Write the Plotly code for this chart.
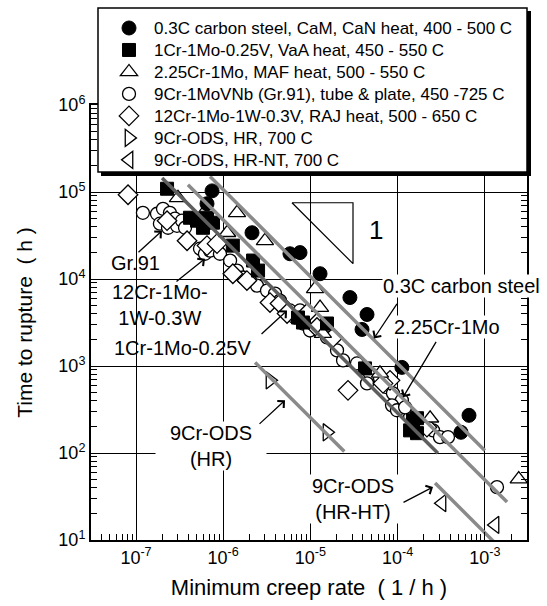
import plotly.graph_objects as go

# ---------------- data (minimum creep rate [1/h], time to rupture [h]) -------------
cs_rate = [7.45e-7, 6.52e-7, 2.14e-6, 5.83e-6, 7.6e-6, 1.29e-5, 2.84e-5, 4.46e-5, 3.91e-5, 1.12e-4, 6.59e-4, 5.33e-4]
cs_time = [1.03e5, 7.33e4, 3.4e4, 1.95e4, 2.01e4, 1.15e4, 6.12e3, 3.91e3, 2.63e3, 964, 271, 173]

crmov_rate = [2.27e-7, 4.16e-7, 5.01e-7, 6.52e-7, 5.86e-7, 7.64e-7, 1.29e-6, 2.2e-6, 2.51e-6, 7.21e-6,
              8.22e-6, 1.55e-5, 4.23e-5, 1.5e-4, 1.67e-4, 1.67e-4, 1.39e-4]
crmov_time = [1.09e5, 5.06e4, 4.68e4, 5.06e4, 3.88e4, 4.44e4, 2.42e4, 1.63e4, 1.25e4, 3.61e3,
              3.16e3, 3.08e3, 938, 238, 169, 251, 182]

cr2_rate = [3.03e-7, 6.52e-7, 1.44e-6, 1.11e-6, 3.01e-6, 1.13e-5, 1.29e-5, 1.39e-5, 4.46e-5, 6.28e-5,
            2.36e-4, 2.45e-3]
cr2_time = [8.57e4, 6.41e4, 5.77e4, 3.4e4, 2.75e4, 7.7e3, 4.7e3, 2.36e3, 891, 822,
            251, 50]

gr91_rate = [1.2e-7, 1.74e-7, 2.04e-7, 2.45e-7, 2.8e-7, 1.88e-7, 2.33e-7, 2.95e-7, 3.37e-7, 3.65e-7,
             5.42e-7, 6.18e-7, 7.06e-7, 9.18e-7, 1.2e-6, 1.44e-6, 1.69e-6, 2.03e-6, 2.44e-6, 3.18e-6,
             3.93e-6, 4.48e-6, 5.83e-6, 6.65e-6, 8.22e-6, 9.89e-6, 7.6e-6, 1.55e-5, 2.02e-5, 2.37e-5,
             3.42e-5, 4.82e-5, 6.28e-5, 4.46e-5, 7.55e-5, 8.85e-5, 1.12e-4, 8.63e-5, 9.84e-5, 1.39e-4,
             1.22e-4, 2.55e-4, 3.06e-4, 3.78e-4, 1.38e-3]
gr91_time = [5.77e4, 5.62e4, 6.41e4, 5.77e4, 4.93e4, 4.32e4, 3.88e4, 4.09e4, 4.68e4, 3.88e4,
             2.23e4, 1.95e4, 2.12e4, 1.95e4, 1.63e4, 1.25e4, 1.04e4, 9.59e3, 8.4e3, 7.36e3,
             6.8e3, 5.65e3, 4.35e3, 3.61e3, 3.08e3, 2.56e3, 4.35e3, 2.13e3, 1.51e3, 1.16e3,
             1.07e3, 822, 721, 631, 569, 485, 404, 353, 310, 258,
             335, 182, 152, 152, 40.5]

cr12_rate = [8.1e-8, 2.27e-7, 3.85e-7, 6.52e-7, 8.49e-7, 1.29e-6, 1.87e-6, 3.44e-6, 4.48e-6, 5.4e-6,
             9.14e-6, 1.19e-5, 1.82e-5, 2.7e-5, 8.18e-5, 6.81e-5, 2.17e-4]
cr12_time = [9.29e4, 4.68e4, 2.75e4, 2.42e4, 2.55e4, 1.15e4, 9.59e3, 5.36e3, 5.22e3, 4.01e3,
             4.01e3, 2.77e3, 2.13e3, 525, 684, 631, 198]

odshr_rate = [3.44e-6, 1.55e-5]
odshr_time = [684, 173]

odsnt_rate = [3.23e-4, 1.31e-3]
odsnt_time = [26.5, 14.9]

# Monkman-Grant type guide lines (slope -1): end points [rate], [time]
line_cs_rate, line_cs_time = [7.06e-7, 1.0e-3], [1.51e5, 107]
line_cr2_rate, line_cr2_time = [3.94e-7, 1.8e-3], [1.21e5, 27.3]
line_crmov_rate, line_crmov_time = [1.99e-7, 2.9e-4], [1.45e5, 99.6]
line_hr_rate, line_hr_time = [2.32e-6, 2.45e-5], [1.1e3, 104]
line_ht_rate, line_ht_time = [2.69e-4, 1.25e-3], [45.1, 9.7]

# slope triangle (rate, time)
tri_rate = [6.15e-6, 3.08e-5, 3.08e-5, 6.15e-6]
tri_time = [7.52e4, 7.52e4, 1.50e4, 7.52e4]

legend_names = [
    "0.3C carbon steel, CaM, CaN heat, 400 - 500 C",
    "1Cr-1Mo-0.25V, VaA heat, 450 - 550 C",
    "2.25Cr-1Mo, MAF heat, 500 - 550 C",
    "9Cr-1MoVNb (Gr.91), tube & plate, 450 -725 C",
    "12Cr-1Mo-1W-0.3V, RAJ heat, 500 - 650 C",
    "9Cr-ODS, HR, 700 C",
    "9Cr-ODS, HR-NT, 700 C",
]

FONT = "Liberation Sans, Arial, sans-serif"
W, H = 547, 606
ML, MR, MT, MB = 91, 20, 105, 66
PW, PH = W - ML - MR, H - MT - MB


def px(x):
    return (x - ML) / PW


def py(y):
    return (H - MB - y) / PH


fig = go.Figure()

blk = dict(color="black", width=1.3)
series = [
    (gr91_rate, gr91_time, 3, dict(symbol="circle", size=13, color="white", line=blk)),
    (cr12_rate, cr12_time, 4, dict(symbol="diamond", size=15, color="white", line=blk)),
    (cr2_rate, cr2_time, 2, dict(symbol="triangle-up", size=15, color="white", line=blk)),
    (crmov_rate, crmov_time, 1, dict(symbol="square", size=13, color="black", line=dict(color="black", width=1))),
    (cs_rate, cs_time, 0, dict(symbol="circle", size=14, color="black", line=dict(color="black", width=1))),
    (odshr_rate, odshr_time, 5, dict(symbol="triangle-right", size=15, color="white", line=blk)),
    (odsnt_rate, odsnt_time, 6, dict(symbol="triangle-left", size=15, color="white", line=blk)),
]
for xs, ys, li, mk in series:
    fig.add_trace(go.Scatter(
        x=xs, y=ys, mode="markers", marker=mk,
        name='<span style="font-size:17px">' + legend_names[li] + "</span>",
        legendrank=li + 1, showlegend=True, cliponaxis=False,
    ))

for lx, ly, col in [
    (line_cs_rate, line_cs_time, "#8a8a8a"),
    (line_cr2_rate, line_cr2_time, "#8a8a8a"),
    (line_crmov_rate, line_crmov_time, "#5e5e5e"),
    (line_hr_rate, line_hr_time, "#8a8a8a"),
    (line_ht_rate, line_ht_time, "#8a8a8a"),
]:
    fig.add_trace(go.Scatter(x=lx, y=ly, mode="lines", line=dict(color=col, width=3.5),
                             showlegend=False, hoverinfo="skip"))

fig.add_trace(go.Scatter(x=tri_rate, y=tri_time, mode="lines", line=dict(color="black", width=1.2),
                         showlegend=False, hoverinfo="skip"))

# legend box with drop shadow
fig.add_shape(type="rect", xref="paper", yref="paper", x0=px(101), x1=px(531), y0=py(176), y1=py(11),
              fillcolor="black", line=dict(width=0), layer="above")
fig.add_shape(type="rect", xref="paper", yref="paper", x0=px(98), x1=px(527), y0=py(172), y1=py(8),
              fillcolor="white", line=dict(color="black", width=1.5), layer="above")


def label(text, cx, cy, size=20, bg=None, width=None):
    d = dict(text=text, xref="paper", yref="paper", x=px(cx), y=py(cy), showarrow=False,
             font=dict(family=FONT, size=size, color="black"), xanchor="center", yanchor="middle",
             borderpad=0)
    if bg:
        d["bgcolor"] = bg
    if width:
        d["width"] = width
    fig.add_annotation(**d)


label("Gr.91", 135, 263)
label("12Cr-1Mo-<br>1W-0.3W", 160, 305)
label("1Cr-1Mo-0.25V", 182, 348)
label("0.3C carbon steel", 461, 286, bg="white")
label("2.25Cr-1Mo", 447, 327, bg="white")
label("9Cr-ODS<br>(HR)", 211, 446, bg="white", width=110)
label("9Cr-ODS<br>(HR-HT)", 353, 499, bg="white", width=96)
label("1", 376, 230, size=26)

# arrows: head at data location (log units for annotations), tail offset in pixels
arrows = [(-6.702, 4.555, -25, 23), (-6.209, 4.234, -30, 24), (-5.268, 3.638, -27, 25),
          (-4.271, 3.317, 24, -36), (-3.938, 2.640, 34, -57), (-5.291, 2.606, -27, 25),
          (-3.594, 1.608, -31, 16)]
for hx, hy, ax, ay in arrows:
    fig.add_annotation(x=hx, y=hy, xref="x", yref="y", ax=ax, ay=ay, text="", showarrow=True,
                       arrowhead=4, arrowsize=1.4, arrowwidth=1.3, arrowcolor="black", standoff=0)

axis_common = dict(
    type="log", showline=True, linewidth=2, linecolor="black", mirror="allticks",
    ticks="inside", ticklen=8, tickwidth=1, tickcolor="black",
    showgrid=True, gridcolor="black", gridwidth=1, zeroline=False,
    minor=dict(ticks="inside", ticklen=6, tickwidth=1, tickcolor="black", showgrid=False, dtick="D1"),
    tickfont=dict(family=FONT, size=18, color="black"),
)

fig.update_xaxes(
    **axis_common, range=[-7.516, -2.516],
    tickvals=[1e-7, 1e-6, 1e-5, 1e-4, 1e-3],
    ticktext=["10<sup>-7</sup>", "10<sup>-6</sup>", "10<sup>-5</sup>", "10<sup>-4</sup>", "10<sup>-3</sup>"],
    title=dict(text="Minimum creep rate  ( 1 / h )", font=dict(family=FONT, size=22, color="black"), standoff=13),
)
fig.update_yaxes(
    **axis_common, range=[1, 6],
    tickvals=[1e1, 1e2, 1e3, 1e4, 1e5, 1e6],
    ticktext=["10<sup>1</sup>", "10<sup>2</sup>", "10<sup>3</sup>", "10<sup>4</sup>", "10<sup>5</sup>", "10<sup>6</sup>"],
    title=dict(text="Time to rupture  ( h )", font=dict(family=FONT, size=21, color="black"), standoff=20),
)

fig.update_layout(
    width=W, height=H, margin=dict(l=ML, r=MR, t=MT, b=MB, autoexpand=False),
    paper_bgcolor="white", plot_bgcolor="white",
    font=dict(family=FONT, color="black"),
    showlegend=True,
    legend=dict(x=px(104), y=py(12), xanchor="left", yanchor="top", bgcolor="rgba(0,0,0,0)",
                borderwidth=0, font=dict(family=FONT, size=14.6, color="black"),
                traceorder="normal", itemwidth=40, itemsizing="trace"),
)

fig.write_html("out.html")
